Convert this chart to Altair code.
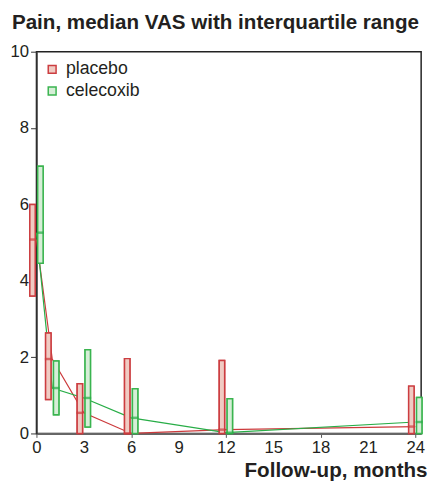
import altair as alt
import pandas as pd

months = [0, 1, 3, 6, 12, 24]
groups = ["placebo", "celecoxib"]

placebo_q1 = [3.6, 0.89, 0.0, 0.0, 0.0, 0.0]
placebo_median = [5.08, 1.95, 0.54, 0.0, 0.1, 0.18]
placebo_q3 = [6.0, 2.63, 1.30, 1.96, 1.91, 1.24]

celecoxib_q1 = [4.46, 0.49, 0.17, 0.0, 0.0, 0.0]
celecoxib_median = [5.26, 1.19, 0.93, 0.41, 0.02, 0.30]
celecoxib_q3 = [7.0, 1.90, 2.19, 1.17, 0.91, 0.94]

x_tick_values = [0, 2, 3, 4, 6, 8, 9, 10, 12, 14, 15, 16, 18, 20, 21, 22, 24]
y_tick_values = [0, 2, 4, 6, 8, 10]

rows = []
for g, q1s, meds, q3s in [
    ("placebo", placebo_q1, placebo_median, placebo_q3),
    ("celecoxib", celecoxib_q1, celecoxib_median, celecoxib_q3),
]:
    for m, a, b, c in zip(months, q1s, meds, q3s):
        rows.append({"group": g, "month": m, "q1": a, "median": b, "q3": c})
df = pd.DataFrame(rows)

FONT = "Liberation Sans"
TEXT = "#231f20"

fill_scale = alt.Scale(domain=groups, range=["#f0cbc3", "#d6eed7"])
stroke_scale = alt.Scale(domain=groups, range=["#cc3d40", "#3ab44f"])
line_scale = alt.Scale(domain=groups, range=["#cc3a3c", "#28ad47"])

legend = alt.Legend(
    title=None, orient="none", legendX=7, legendY=9,
    symbolType="square", symbolSize=64, symbolStrokeWidth=1.5,
    labelFontSize=18, labelFont=FONT, labelColor=TEXT, labelOffset=5,
    rowPadding=4,
)

xdom = alt.Scale(domain=[0, 24.37], nice=False, zero=False, padding=0)

x_enc = alt.X(
    "month:Q",
    scale=xdom,
    axis=alt.Axis(
        values=x_tick_values,
        labelExpr="datum.value % 3 == 0 ? datum.label : ''",
        tickOpacity={"condition": {"test": "datum.value % 2 == 0", "value": 1}, "value": 0},
        title="Follow-up, months", titleFont=FONT, titleFontSize=21,
        titleFontWeight="bold", titleColor=TEXT, titleAlign="right",
        titleAnchor="end", titleX=398, titleY=44, titleBaseline="alphabetic",
        labelFont=FONT, labelFontSize=17, labelColor=TEXT, labelPadding=2,
        tickSize=4, tickColor="#555", domainColor="#666", domainWidth=2,
        grid=False, labelFlush=False,
    ),
)

y_scale = alt.Scale(domain=[0, 10], nice=False, padding=0)
y_axis = alt.Axis(
    values=y_tick_values, title=None, grid=False,
    labelFont=FONT, labelFontSize=17, labelColor=TEXT, labelPadding=2,
    tickSize=6, tickColor="#333", domainColor="#333", domainWidth=1.5,
)

base = alt.Chart(df)
calc = "datum.month + (datum.group == 'placebo' ? -0.25 : 0.25)"
xpos = alt.X("xpos:Q", scale=xdom)

# legend-carrying box layer (first layer so the legend is built)
boxes_legend = base.transform_calculate(xpos=calc).mark_bar(
    width=5.5, strokeWidth=1.5, clip=False
).encode(
    x=xpos,
    y=alt.Y("q1:Q", scale=y_scale, axis=y_axis),
    y2="q3:Q",
    fill=alt.Fill("group:N", scale=fill_scale, legend=legend),
    stroke=alt.Stroke("group:N", scale=stroke_scale, legend=legend),
)

lines = base.mark_line(strokeWidth=1.2).encode(
    x=x_enc,
    y=alt.Y("median:Q", scale=y_scale),
    color=alt.Color("group:N", scale=line_scale, legend=None),
    detail="group:N",
)

# boxes drawn again on top of the lines
boxes = base.transform_calculate(xpos=calc).mark_bar(
    width=5.5, strokeWidth=1.5, clip=False
).encode(
    x=xpos,
    y=alt.Y("q1:Q", scale=y_scale),
    y2="q3:Q",
    fill=alt.Fill("group:N", scale=fill_scale, legend=legend),
    stroke=alt.Stroke("group:N", scale=stroke_scale, legend=legend),
)

medians = base.transform_calculate(xpos=calc).mark_tick(
    orient="horizontal", size=7, thickness=2.5
).encode(
    x=xpos,
    y=alt.Y("median:Q", scale=y_scale),
    color=alt.Color("group:N", scale=line_scale, legend=None),
)

chart = alt.layer(boxes_legend, lines, boxes, medians).properties(
    width=392,
    height=389,
    autosize=alt.AutoSizeParams(type="none"),
    padding={"left": 29, "top": 40, "right": 8, "bottom": 49},
    title=alt.Title(
        "Pain, median VAS with interquartile range",
        anchor="start", frame="group", dx=-25, dy=19, offset=12,
        fontSize=21, font=FONT, fontWeight="bold", color=TEXT,
        baseline="alphabetic",
    ),
).configure_view(stroke="#222", strokeWidth=1.5)

chart.save("out.html", embed_options={"renderer": "svg", "actions": False})
